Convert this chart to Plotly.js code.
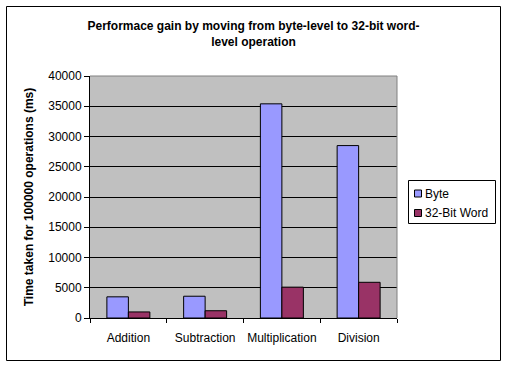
<!DOCTYPE html>
<html>
<head>
<meta charset="utf-8">
<script src="https://cdn.plot.ly/plotly-3.0.1.min.js"></script>
<style>html,body{margin:0;padding:0;background:#fff;}#chart{width:507px;height:367px;}</style>
</head>
<body>
<div id="chart"></div>
<script>
var categories = ["Addition", "Subtraction", "Multiplication", "Division"];
var byteValues = [3500, 3600, 35400, 28500];
var wordValues = [1000, 1200, 5100, 5900];
var seriesNames = ["Byte", "32-Bit Word"];
var seriesColors = ["#9999FF", "#993366"];
var yTicks = [0, 5000, 10000, 15000, 20000, 25000, 30000, 35000, 40000];

var FONT = "Liberation Sans, Arial, Helvetica, sans-serif";

var traces = [
  {type: "bar", name: seriesNames[0], x: categories, y: byteValues, showlegend: false,
   marker: {color: seriesColors[0], line: {color: "#000000", width: 1}}},
  {type: "bar", name: seriesNames[1], x: categories, y: wordValues, showlegend: false,
   marker: {color: seriesColors[1], line: {color: "#000000", width: 1}}}
];

var L = 90, R = 397, T = 76, B = 318, W = 507, H = 367;
function toPX(x){ return (x - L) / (R - L); }
function toPY(y){ return (B - y) / (B - T); }

var shapes = [
  {type: "line", xref: "paper", yref: "paper", x0: 0, x1: 1, y0: 1, y1: 1, line: {color: "#808080", width: 1}, layer: "above"},
  {type: "line", xref: "paper", yref: "paper", x0: 1, x1: 1, y0: 0, y1: 1, line: {color: "#808080", width: 1}, layer: "above"},
  // outer chart frame
  {type: "line", xref: "paper", yref: "paper", x0: toPX(6.5), x1: toPX(500.5), y0: toPY(6.5), y1: toPY(6.5), line: {color: "#000", width: 1}, layer: "above"},
  {type: "line", xref: "paper", yref: "paper", x0: toPX(6.5), x1: toPX(500.5), y0: toPY(360.5), y1: toPY(360.5), line: {color: "#000", width: 1}, layer: "above"},
  {type: "line", xref: "paper", yref: "paper", x0: toPX(6.5), x1: toPX(6.5), y0: toPY(6.5), y1: toPY(360.5), line: {color: "#000", width: 1}, layer: "above"},
  {type: "line", xref: "paper", yref: "paper", x0: toPX(500.5), x1: toPX(500.5), y0: toPY(6.5), y1: toPY(360.5), line: {color: "#000", width: 1}, layer: "above"},
  // legend box
  {type: "rect", xref: "paper", yref: "paper", x0: toPX(408.5), x1: toPX(495.5), y0: toPY(223.5), y1: toPY(180.5), line: {color: "#000", width: 1}, fillcolor: "#FFFFFF", layer: "above"}
];
var annotations = [];
var legendRows = [193.5, 213];
for (var i = 0; i < seriesNames.length; i++) {
  var cy = legendRows[i];
  shapes.push({type: "rect", xref: "paper", yref: "paper",
    x0: toPX(414.5), x1: toPX(421.5), y0: toPY(cy + 3.5), y1: toPY(cy - 3.5),
    line: {color: "#000", width: 1}, fillcolor: seriesColors[i], layer: "above"});
  annotations.push({xref: "paper", yref: "paper", x: toPX(423), y: toPY(cy),
    xanchor: "left", yanchor: "middle", showarrow: false, text: seriesNames[i],
    font: {family: FONT, size: 12, color: "#000"}});
}

var layout = {
  width: W, height: H,
  margin: {l: L, r: W - R, t: T, b: H - B, pad: 0},
  paper_bgcolor: "#FFFFFF",
  plot_bgcolor: "#C0C0C0",
  font: {family: FONT, size: 12, color: "#000000"},
  barmode: "group",
  bargap: 0.44,
  bargroupgap: 0,
  showlegend: false,
  title: {
    text: "<b>Performace gain by moving from byte-level to 32-bit word-<br>level operation</b>",
    font: {family: FONT, size: 12, color: "#000"},
    x: 0.5, xref: "container", xanchor: "center",
    y: 1 - 30 / H, yref: "container", yanchor: "top"
  },
  xaxis: {
    type: "category",
    showgrid: false,
    showline: true, linecolor: "#000", linewidth: 1,
    ticks: "outside", ticklen: 4, tickcolor: "#000", tickwidth: 1,
    tickson: "boundaries",
    tickangle: 0,
    ticklabelstandoff: 9,
    tickfont: {family: FONT, size: 12, color: "#000"},
    fixedrange: true
  },
  yaxis: {
    range: [0, 40000],
    tickvals: yTicks,
    ticktext: yTicks.map(String),
    showgrid: true, gridcolor: "#000", gridwidth: 1,
    zeroline: false,
    showline: true, linecolor: "#000", linewidth: 1,
    ticks: "outside", ticklen: 5, tickcolor: "#000", tickwidth: 1,
    tickfont: {family: FONT, size: 12, color: "#000"},
    title: {text: "<b>Time taken for 100000 operations (ms)</b>", font: {family: FONT, size: 12, color: "#000"}, standoff: 12},
    fixedrange: true
  },
  shapes: shapes,
  annotations: annotations
};

Plotly.newPlot("chart", traces, layout, {staticPlot: true, displayModeBar: false});
</script>
</body>
</html>
